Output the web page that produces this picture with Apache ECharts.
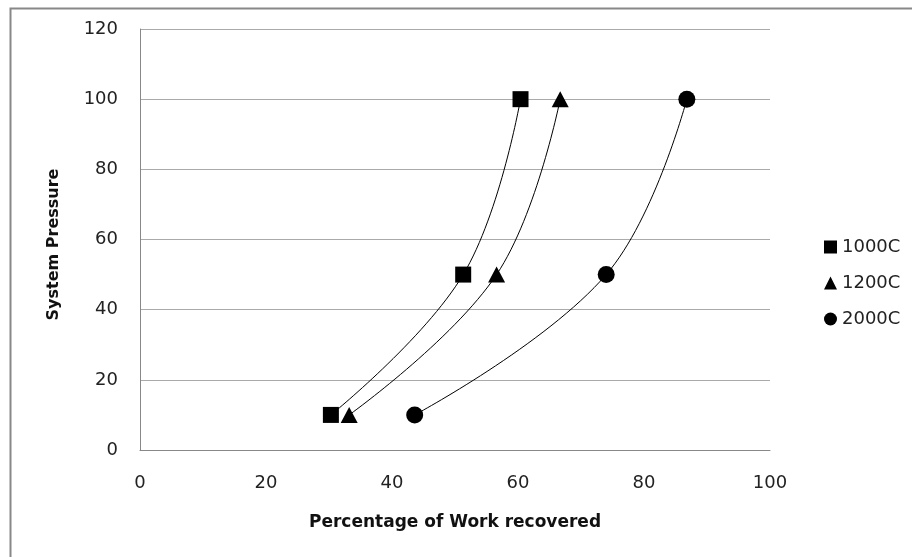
<!DOCTYPE html>
<html><head><meta charset="utf-8">
<script src="https://cdn.jsdelivr.net/npm/echarts@6/dist/echarts.min.js"></script>
<style>html,body{margin:0;padding:0;background:#fff}#c{width:912px;height:557px}</style>
</head><body><div id="c"></div>
<script>
const seriesNames = ['1000C', '1200C', '2000C'];
const pressures = [10, 50, 100];
const work1000 = [30.3, 51.3, 60.4];
const work1200 = [33.2, 56.6, 66.7];
const work2000 = [43.6, 74.0, 86.8];
const xTicks = [0, 20, 40, 60, 80, 100];
const yTicks = [0, 20, 40, 60, 80, 100, 120];

const symbols = ['rect', 'triangle', 'circle'];
const symbolSizes = [16, [17, 16], 17];
const works = [work1000, work1200, work2000];
const font = 'DejaVu Sans';

const chart = echarts.init(document.getElementById('c'));
chart.setOption({
  animation: false,
  backgroundColor: '#fff',
  textStyle: { fontFamily: font },
  graphic: [{
    type: 'rect', left: 8, top: 6, z: -1,
    shape: { width: 1000, height: 700 },
    style: { fill: 'none', stroke: '#888', lineWidth: 2 }
  }],
  grid: { left: 140, right: 142, top: 29, bottom: 107 },
  legend: {
    orient: 'vertical', left: 819, top: 233,
    itemWidth: 13, itemHeight: 13, itemGap: 18,
    textStyle: { fontFamily: font, fontSize: 18, color: '#222', lineHeight: 18 },
    data: seriesNames.map((n, i) => ({ name: n, icon: symbols[i] }))
  },
  xAxis: {
    type: 'value', min: xTicks[0], max: xTicks[xTicks.length - 1], interval: 20,
    name: 'Percentage of Work recovered', nameLocation: 'middle', nameGap: 64,
    nameTextStyle: { fontFamily: font, fontSize: 17, fontWeight: 'bold', color: '#111' },
    axisLine: { lineStyle: { color: '#888', width: 1 } },
    axisTick: { show: false },
    axisLabel: { margin: 24, fontSize: 18, color: '#222', fontFamily: font },
    splitLine: { show: false }
  },
  yAxis: {
    type: 'value', min: yTicks[0], max: yTicks[yTicks.length - 1], interval: 20,
    name: 'System Pressure', nameLocation: 'middle', nameGap: 78, nameRotate: 90,
    nameTextStyle: { fontFamily: font, fontSize: 16, fontWeight: 'bold', color: '#111', padding: [0, 10, 0, 0] },
    axisLine: { show: true, lineStyle: { color: '#888', width: 1 } },
    axisTick: { show: false },
    axisLabel: { margin: 22, fontSize: 18, color: '#222', fontFamily: font },
    splitLine: { lineStyle: { color: '#aaa', width: 1 } }
  },
  series: seriesNames.map((n, i) => ({
    name: n, type: 'line', smooth: 0.4,
    symbol: symbols[i], symbolSize: symbolSizes[i],
    showAllSymbol: true,
    itemStyle: { color: '#000' },
    lineStyle: { color: '#000', width: 1 },
    data: works[i].map((w, k) => [w, pressures[k]])
  }))
});
</script></body></html>
